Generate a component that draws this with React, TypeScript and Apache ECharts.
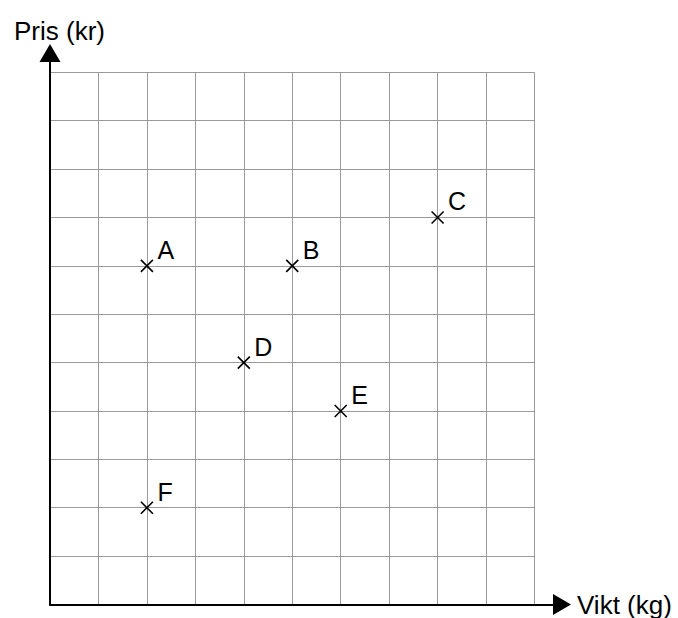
import React, { useEffect, useRef } from "react";
import * as echarts from "echarts";

const pointLabels = ["A", "B", "C", "D", "E", "F"];
const weights = [2, 5, 8, 4, 6, 2];
const prices = [7, 7, 8, 5, 4, 2];
const xMax = 10;
const yMax = 11;
const xName = "Vikt (kg)";
const yName = "Pris (kr)";

const FONT = "'Liberation Sans', Arial, Helvetica, sans-serif";

export default function App() {
  const ref = useRef<HTMLDivElement>(null);
  useEffect(() => {
    if (!ref.current) return;
    const chart = echarts.init(ref.current, undefined, { renderer: "svg" });
    const data = pointLabels.map((n, i) => ({ name: n, value: [weights[i], prices[i]] }));
    const hidden = { show: false };
    chart.setOption({
      animation: false,
      backgroundColor: "#fff",
      textStyle: { fontFamily: FONT },
      grid: [
        { left: 50, top: 72.3, width: 484.5, height: 532.2 },
        { left: 50, top: 53, width: 512, height: 551.5 },
      ],
      xAxis: [
        {
          type: "value", gridIndex: 0, min: 0, max: xMax, interval: 1,
          axisLine: hidden, axisTick: hidden, axisLabel: hidden,
          splitLine: { show: true, lineStyle: { color: "#9a9a9a", width: 1 } },
        },
        {
          type: "value", gridIndex: 1, min: 0, max: 1, z: 5,
          axisLine: {
            show: true, symbol: ["none", "triangle"], symbolSize: [21, 18],
            lineStyle: { color: "#000", width: 2 },
          },
          axisTick: hidden, axisLabel: hidden, splitLine: hidden,
          name: xName, nameLocation: "end", nameGap: 15,
          nameTextStyle: { color: "#000", fontSize: 26, fontFamily: FONT },
        },
      ],
      yAxis: [
        {
          type: "value", gridIndex: 0, min: 0, max: yMax, interval: 1,
          axisLine: hidden, axisTick: hidden, axisLabel: hidden,
          splitLine: { show: true, lineStyle: { color: "#9a9a9a", width: 1 } },
        },
        {
          type: "value", gridIndex: 1, min: 0, max: 1, z: 5,
          axisLine: {
            show: true, symbol: ["none", "triangle"], symbolSize: [21, 18],
            lineStyle: { color: "#000", width: 2 },
          },
          axisTick: hidden, axisLabel: hidden, splitLine: hidden,
          name: yName, nameLocation: "end", nameGap: 9,
          nameTextStyle: { color: "#000", fontSize: 26, fontFamily: FONT, align: "center", padding: [0, 0, 0, 19] },
        },
      ],
      series: [
        {
          type: "scatter",
          xAxisIndex: 0,
          yAxisIndex: 0,
          z: 10,
          symbol: "path://M0,0L10,10M10,0L0,10",
          symbolSize: 12,
          itemStyle: { color: "none", borderColor: "#000", borderWidth: 1.6, opacity: 1 },
          label: {
            show: true,
            position: "right",
            distance: 2,
            offset: [0, -16],
            formatter: "{b}",
            color: "#000",
            fontSize: 25,
            fontFamily: FONT,
          },
          data,
        },
      ],
    });
    return () => chart.dispose();
  }, []);
  return (
    <div
      ref={ref}
      style={{ position: "fixed", left: 0, top: 0, width: 678, height: 618 }}
    />
  );
}
